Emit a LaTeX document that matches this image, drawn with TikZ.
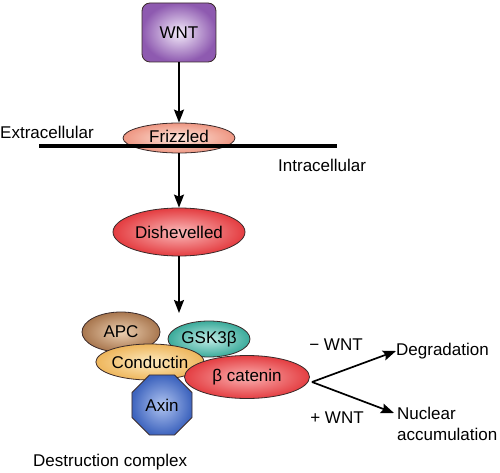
\documentclass[tikz,border=0pt]{standalone}
\usepackage{fontspec}
\setmainfont{Liberation Sans}
\usetikzlibrary{shapes.geometric,arrows.meta}
\definecolor{edge}{HTML}{3A2A2A}
\tikzset{
  blob/.style={ellipse, draw=edge, line width=0.8pt, inner sep=0pt},
  arr/.style={line width=1.7pt, -{Stealth[length=13pt,width=10pt,inset=2pt]}},
  lbl/.style={inner sep=0pt}
}
\begin{document}
\begin{tikzpicture}[x=1pt,y=-1pt,font=\fontsize{17}{21}\selectfont]
\useasboundingbox (0,0) rectangle (500,473);
% WNT
\node[draw=edge, line width=0.8pt, rounded corners=8pt, minimum width=74pt, minimum height=59pt,
  inner color={rgb,255:red,244;green,236;blue,250}, outer color={rgb,255:red,142;green,90;blue,176}] (wnt) at (179,32.5) {WNT};
% Frizzled
\node[blob, minimum width=112pt, minimum height=30pt,
  inner color={rgb,255:red,253;green,230;blue,220}, outer color={rgb,255:red,238;green,150;blue,130}] (fz) at (179,138) {\raisebox{3.5pt}{Frizzled}};
\draw[line width=4pt] (39,146) -- (337,146);
\node[lbl, anchor=west] (ext) at (0,132) {Extracellular};
\node[lbl, anchor=west] (int) at (278,165) {Intracellular};
% Dishevelled
\node[blob, minimum width=132pt, minimum height=48pt,
  inner color={rgb,255:red,250;green,186;blue,186}, outer color={rgb,255:red,228;green,60;blue,64}] (dsh) at (179,232) {Dishevelled};
\coordinate (cplx) at (179,313);
% destruction complex
\node[blob, minimum width=78pt, minimum height=40pt,
  inner color={rgb,255:red,236;green,208;blue,178}, outer color={rgb,255:red,168;green,118;blue,78}] (apc) at (121,332) {APC};
\node[blob, minimum width=82pt, minimum height=36pt,
  inner color={rgb,255:red,192;green,236;blue,230}, outer color={rgb,255:red,58;green,170;blue,154}] (gsk) at (209,339) {GSK3β};
\node[blob, minimum width=100pt, minimum height=36pt,
  inner color={rgb,255:red,253;green,234;blue,192}, outer color={rgb,255:red,238;green,182;blue,92}] (cond) at (150,362) {Conductin};
\node[regular polygon, regular polygon sides=8, minimum size=65pt, inner sep=0pt, draw=edge, line width=0.8pt,
  inner color={rgb,255:red,176;green,196;blue,240}, outer color={rgb,255:red,62;green,100;blue,190}] (axin) at (162,405) {Axin};
\node[blob, minimum width=125pt, minimum height=43pt,
  inner color={rgb,255:red,250;green,176;blue,176}, outer color={rgb,255:red,228;green,62;blue,66}] (bcat) at (247,377) {β catenin};
\node[lbl, anchor=west] (dc) at (33,462) {Destruction complex};
% outcomes
\coordinate (fork) at (312,382);
\node[lbl, anchor=west] (deg) at (396,351) {Degradation};
\node[lbl, anchor=west, align=left] (nuc) at (397,423.5) {Nuclear\\accumulation};
\coordinate (nuctip) at (394,413);
\node[lbl] (mw) at (336,345) {− WNT};
\node[lbl] (pw) at (337,418) {+ WNT};
% arrows
\draw[arr] (wnt.south) -- (fz.north);
\draw[arr] (fz.south) -- (dsh.north);
\draw[arr] (dsh.south) -- (cplx);
\draw[arr] (fork) -- (deg.west);
\draw[arr] (fork) -- (nuctip);
\end{tikzpicture}
\end{document}
